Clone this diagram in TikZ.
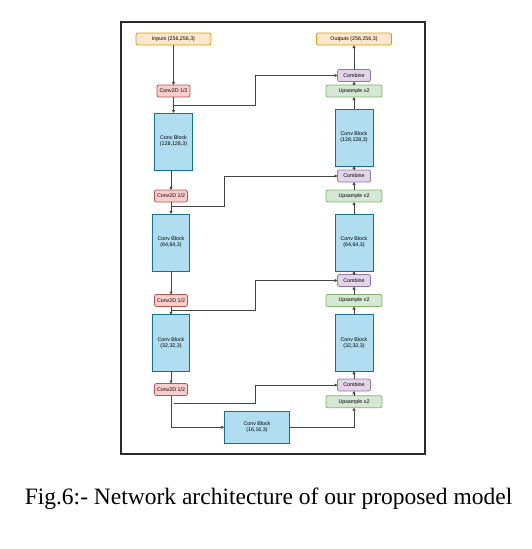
\documentclass[tikz,border=0pt]{standalone}
\usepackage{fontspec}
\setmainfont{Liberation Serif}
\newfontfamily\boxfont{Liberation Sans}
\usetikzlibrary{arrows.meta}
\definecolor{orgF}{HTML}{FFE6CC}\definecolor{orgD}{HTML}{D79B00}
\definecolor{redF}{HTML}{F8CECC}\definecolor{redD}{HTML}{B85450}
\definecolor{bluF}{HTML}{B1DDF0}\definecolor{bluD}{HTML}{10739E}
\definecolor{purF}{HTML}{E1D5E7}\definecolor{purD}{HTML}{9673A6}
\definecolor{grnF}{HTML}{D5E8D4}\definecolor{grnD}{HTML}{82B366}
\definecolor{lineC}{HTML}{444444}
\definecolor{frameC}{HTML}{2A2A2A}
\tikzset{
  every node/.style={inner sep=0pt, outer sep=0pt},
  lbl/.style={font=\boxfont\fontsize{5.3}{6}\selectfont, align=center, text=black, line width=0.8pt},
  iobox/.style={lbl, draw=orgD, fill=orgF, rounded corners=2pt, minimum width=75pt, minimum height=12pt},
  downbox/.style={lbl, draw=redD, fill=redF, rounded corners=2pt, minimum width=33pt, minimum height=12pt},
  combbox/.style={lbl, draw=purD, fill=purF, rounded corners=2pt, minimum width=33pt, minimum height=12pt},
  upbox/.style={lbl, draw=grnD, fill=grnF, rounded corners=2pt, minimum width=56pt, minimum height=12pt},
  convbox/.style={lbl, draw=bluD, fill=bluF, minimum width=37.5pt, minimum height=57pt},
  conn/.style={draw=lineC, line width=0.9pt, -{Triangle[length=3pt,width=3pt]}},
}
\begin{document}
\begin{tikzpicture}[x=1pt,y=-1pt]
\useasboundingbox (0,0) rectangle (531,549);
\draw[line width=1.5pt, draw=frameC] (121,22) rectangle (425,454);
% left column
\node[iobox] (in) at (173.5,39) {Inputs (256,256,3)};
\node[downbox] (c1) at (173.5,91) {Conv2D 1/2};
\node[convbox] (L1) at (173.5,141.5) {Conv Block\\(128,128,3)};
\node[downbox] (c2) at (171,196) {Conv2D 1/2};
\node[convbox] (L2) at (171,242.5) {Conv Block\\(64,64,3)};
\node[downbox] (c3) at (171,300.5) {Conv2D 1/2};
\node[convbox, minimum height=56.5pt] (L3) at (171,343) {Conv Block\\(32,32,3)};
\node[downbox] (c4) at (171,389.5) {Conv2D 1/2};
\node[convbox, minimum width=65.4pt, minimum height=32pt] (B) at (257,427.3) {Conv Block\\(16,16,3)};
% right column
\node[iobox] (out) at (354,39) {Outputs (256,256,3)};
\node[combbox] (cb1) at (354,75.5) {Combine};
\node[upbox] (up1) at (354,91) {Upsample x2};
\node[convbox, minimum width=38pt] (R1) at (354,137.5) {Conv Block\\(128,128,3)};
\node[combbox] (cb2) at (354,176) {Combine};
\node[upbox] (up2) at (354,196) {Upsample x2};
\node[convbox, minimum width=38pt] (R2) at (354,242.5) {Conv Block\\(64,64,3)};
\node[combbox] (cb3) at (354,280.5) {Combine};
\node[upbox] (up3) at (354,300.5) {Upsample x2};
\node[convbox, minimum width=38pt, minimum height=56.5pt] (R3) at (354,343) {Conv Block\\(32,32,3)};
\node[combbox] (cb4) at (354,385) {Combine};
\node[upbox] (up4) at (354,401.7) {Upsample x2};
% skip start points
\coordinate (s1) at (173.5,105.3);
\coordinate (s2) at (171,206);
\coordinate (s3) at (171,310);
\coordinate (s4) at (173.5,403);
\coordinate (k4) at (171,427.3);
% down path
\draw[conn] (in.south) -- (c1.north);
\draw[conn] (c1.south) -- (L1.north);
\draw[conn] (c2.north |- L1.south) -- (c2.north);
\draw[conn] (c2.south) -- (L2.north);
\draw[conn] (L2.south) -- (c3.north);
\draw[conn] (c3.south) -- (L3.north);
\draw[conn] (L3.south) -- (c4.north);
\draw[conn] (c4.south) -- (k4) -- (B.west);
% skips
\draw[conn] (s1) -- (255.7,105.3) |- (cb1.west);
\draw[conn] (s2) -- (224.7,206) |- (cb2.west);
\draw[conn] (s3) -- (255.7,310) |- (cb3.west);
\draw[conn] (s4) -- (255.7,403) |- (cb4.west);
% up path
\draw[conn] (B.east) -| (up4.south);
\draw[conn] (up4.north) -- (cb4.south);
\draw[conn] (cb4.north) -- (R3.south);
\draw[conn] (R3.north) -- (up3.south);
\draw[conn] (up3.north) -- (cb3.south);
\draw[conn] (cb3.north) -- (R2.south);
\draw[conn] (R2.north) -- (up2.south);
\draw[conn] (up2.north) -- (cb2.south);
\draw[conn] (cb2.north) -- (R1.south);
\draw[conn] (R1.north) -- (up1.south);
\draw[conn] (up1.north) -- (cb1.south);
\draw[conn] (cb1.north) -- (out.south);
% caption
\node[font=\fontsize{23.5}{28}\selectfont, anchor=base] (cap) at (268.5,504) {Fig.6:- Network architecture of our proposed model};
\end{tikzpicture}
\end{document}
